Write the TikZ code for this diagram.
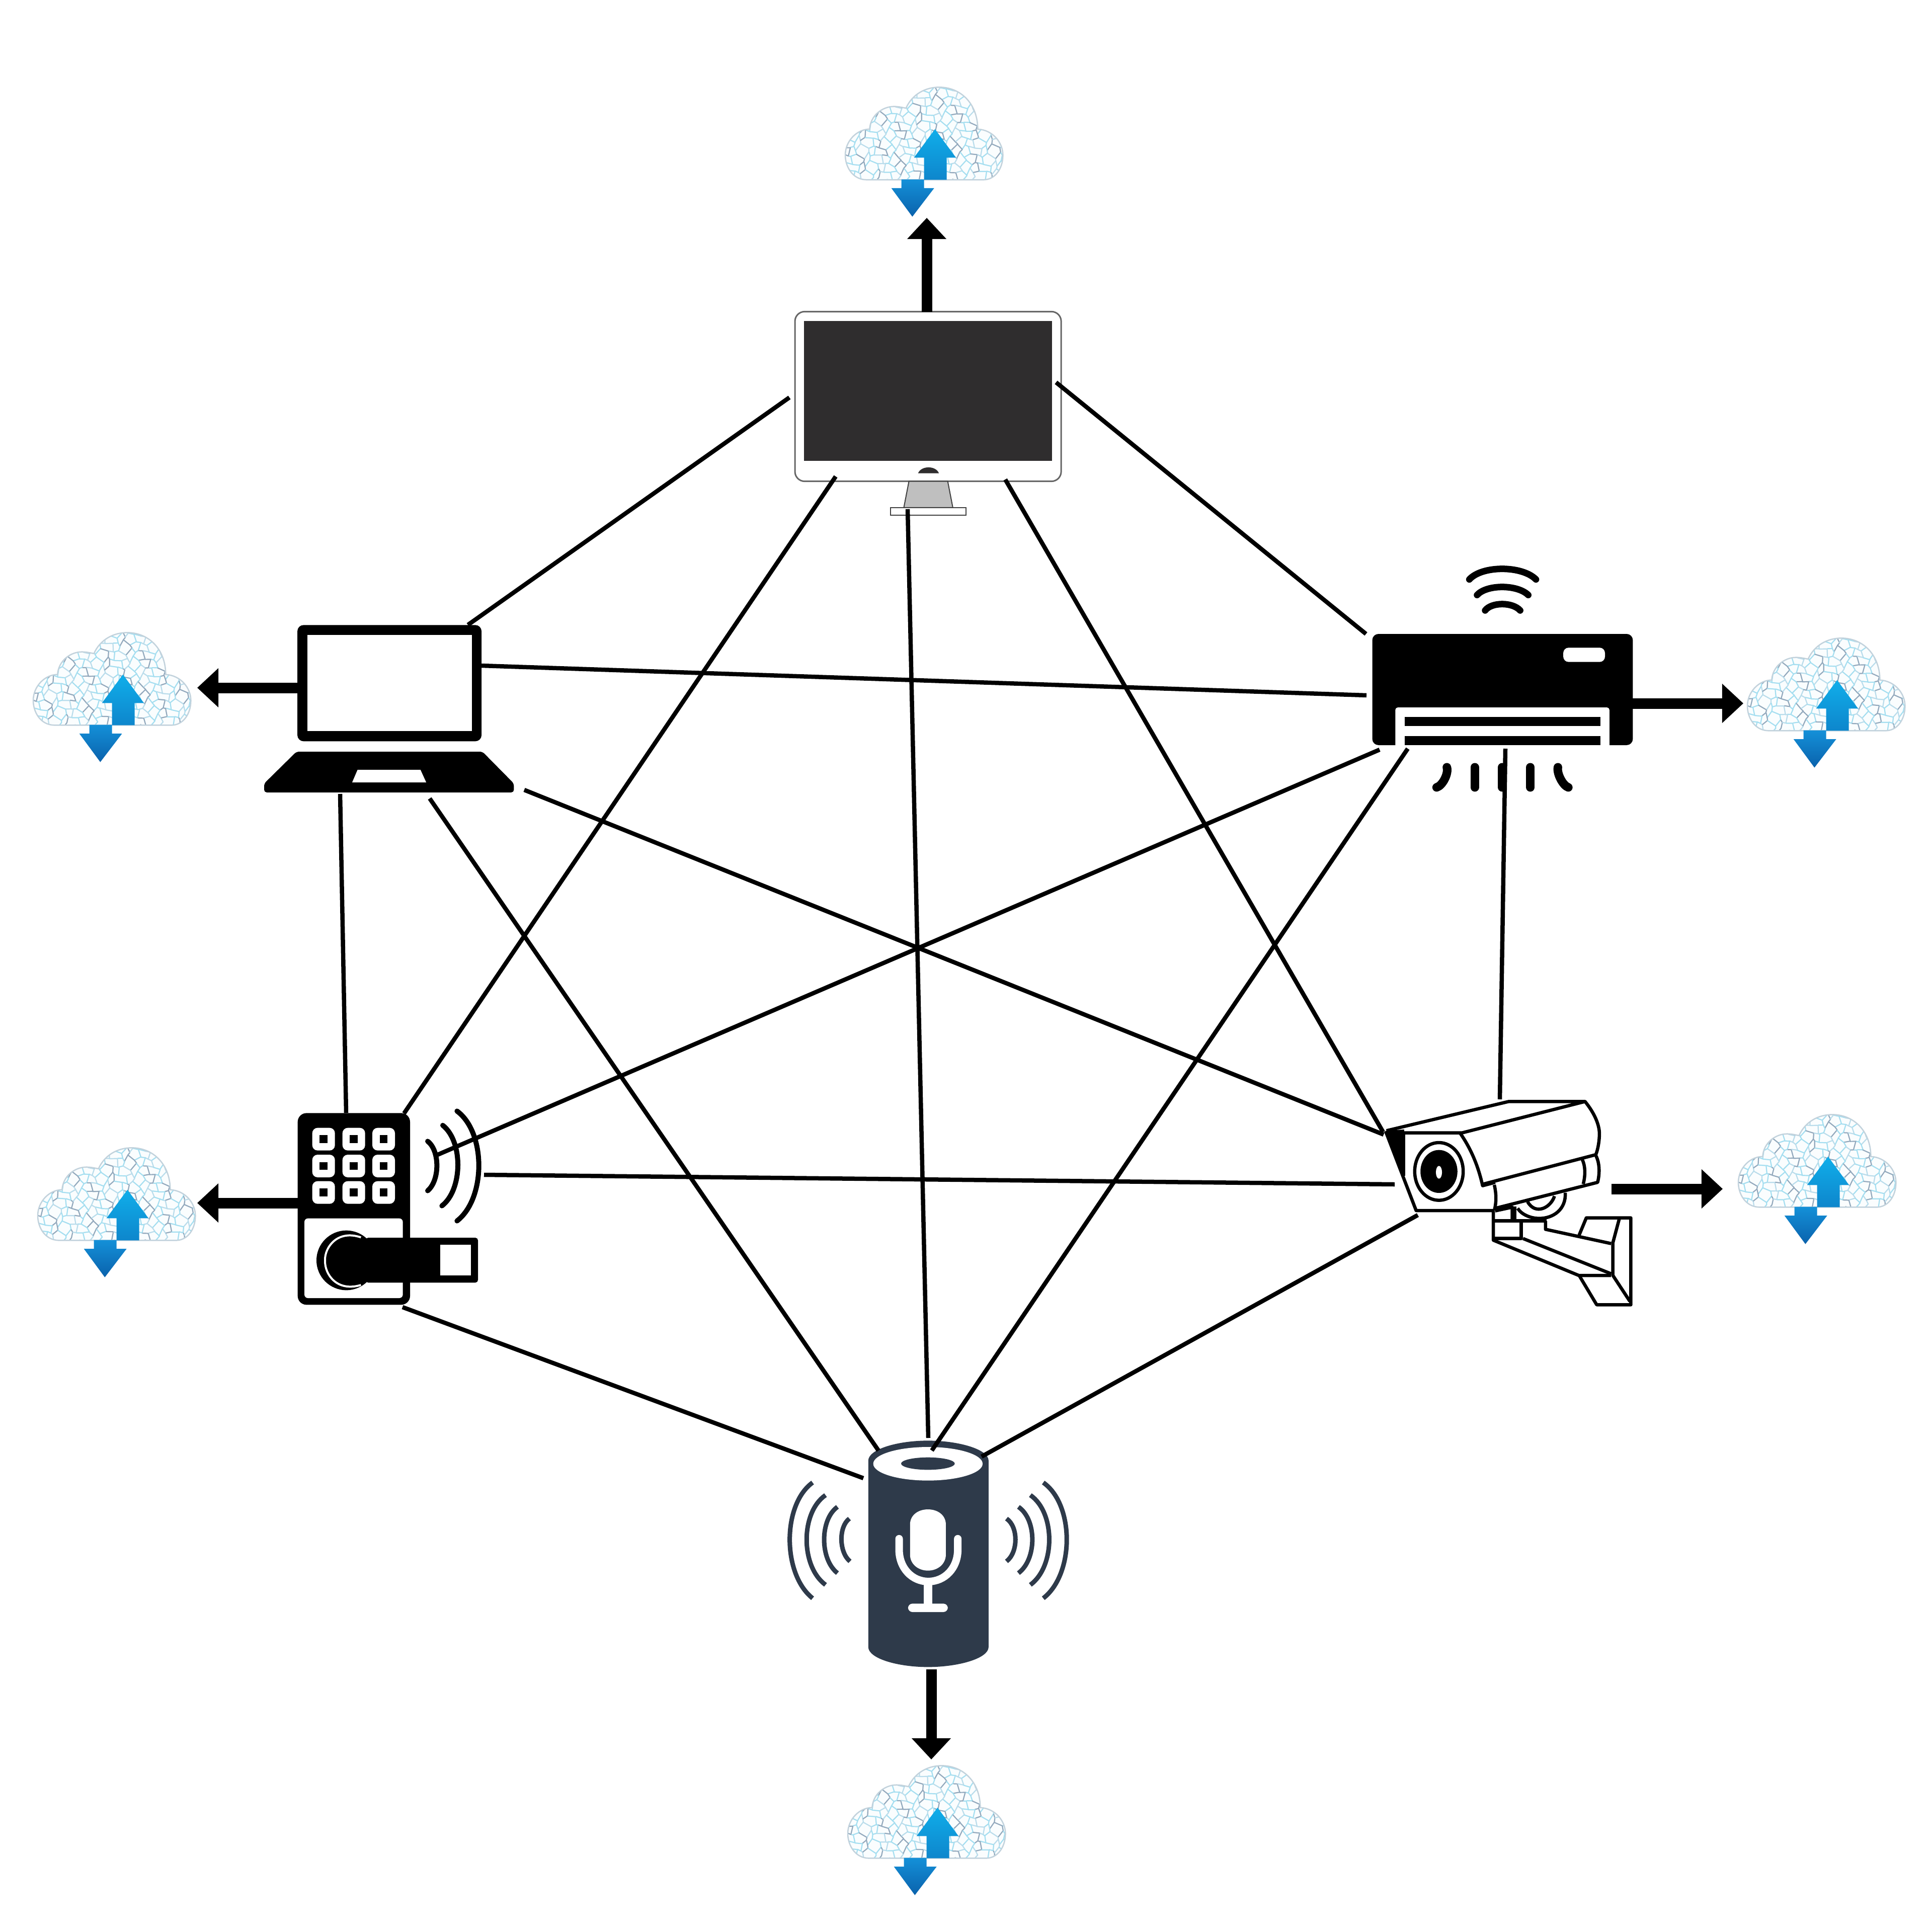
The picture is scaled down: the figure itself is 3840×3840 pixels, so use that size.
\documentclass[tikz,border=0pt]{standalone}
\usetikzlibrary{arrows.meta,shadings}
\definecolor{spk}{HTML}{2E3A4A}
\definecolor{scr}{HTML}{2F2D2E}
\definecolor{meshA}{HTML}{92A8BC}
\definecolor{meshB}{HTML}{A4DEF0}
\definecolor{meshC}{HTML}{B9DCEB}
\definecolor{cloudedge}{HTML}{C2D2DC}
\definecolor{upT}{HTML}{10AEEA}
\definecolor{upB}{HTML}{0E86CC}
\definecolor{dnT}{HTML}{1490D8}
\definecolor{dnB}{HTML}{0A62AC}
\newcommand{\qarc}[7][]{%
  \pgfmathsetmacro\qax{#2+4/3*(#4-(#2+#6)/2)+0.2*(#6-#2)}%
  \pgfmathsetmacro\qay{#3+4/3*(#5-(#3+#7)/2)+0.2*(#7-#3)}%
  \pgfmathsetmacro\qbx{#6+4/3*(#4-(#2+#6)/2)-0.2*(#6-#2)}%
  \pgfmathsetmacro\qby{#7+4/3*(#5-(#3+#7)/2)-0.2*(#7-#3)}%
  \draw[#1] (#2,#3) .. controls (\qax,\qay) and (\qbx,\qby) .. (#6,#7);}
\tikzset{
  lw/.style={line width=#1*0.2845pt},
  conn/.style={lw=8.5,black},
  bigarrow/.style={lw=21,black,-{Triangle[length=12pt,width=21.5pt]}},
  declare function={jx(\p,\q)=\p+13*sin(\p*3.7+\q*9.1);jy(\p,\q)=\q+13*sin(\p*8.3+\q*2.9);},
  cloudshape/.pic={
    \begin{scope}[scale=1/3]
      \def\cloudpath{(245,652) .. controls (160,650) and (120,570) .. (120,505) .. controls (120,420) and (190,350) .. (265,350) .. controls (270,270) and (340,215) .. (410,215) .. controls (440,215) and (465,222) .. (482,225) .. controls (520,140) and (600,100) .. (680,100) .. controls (810,100) and (910,200) .. (910,350) .. controls (1000,355) and (1060,430) .. (1060,505) .. controls (1060,590) and (1010,652) .. (945,652) -- cycle}
      \fill[white!94!meshB] \cloudpath;
      \begin{scope}
        \clip \cloudpath;
        \foreach \i in {0,...,17}{\foreach \j in {0,...,11}{
          \pgfmathsetmacro\cx{110+\i*56+mod(\j,2)*28}
          \pgfmathsetmacro\cy{90+\j*49}
          \pgfmathtruncatemacro\cc{mod(\i*7+\j*5,4)}
          \ifcase\cc\def\mc{meshA}\or\def\mc{meshB}\or\def\mc{meshC}\else\def\mc{meshB}\fi
          \draw[\mc,lw=2.2,line join=round]
            ({jx(\cx,\cy-32)},{jy(\cx,\cy-32)})
            -- ({jx(\cx+28,\cy-16)},{jy(\cx+28,\cy-16)})
            -- ({jx(\cx+28,\cy+16)},{jy(\cx+28,\cy+16)})
            -- ({jx(\cx,\cy+32)},{jy(\cx,\cy+32)});
        }}
      \end{scope}
      \draw[cloudedge,lw=2.5] \cloudpath;
      \shade[top color=upT,bottom color=upB]
        (655,350) -- (780,520) -- (725,520) -- (725,652) -- (590,652) -- (590,520) -- (530,520) -- cycle;
      \shade[top color=dnT,bottom color=dnB]
        (455,650) -- (590,650) -- (590,702) -- (650,702) -- (520,872) -- (395,702) -- (455,702) -- cycle;
    \end{scope}
  }
}
\begin{document}
\begin{tikzpicture}[x=0.01cm,y=-0.01cm]
\useasboundingbox (0,0) rectangle (3840,3840);
\fill[white] (0,0) rectangle (3840,3840);

% clouds
\pic (cloudtop) at (1640,140) {cloudshape};
\pic (cloudlap) at (26,1224) {cloudshape};
\pic (cloudac) at (3433,1235) {cloudshape};
\pic (cloudcam) at (3415,2182) {cloudshape};
\pic (cloudlock) at (35,2248) {cloudshape};
\pic (cloudspk) at (1645,3476) {cloudshape};

% monitor
\begin{scope}[shift={(1560,610)},xscale=1/2.75,yscale=1/3]
  \draw[black!60,lw=3,fill=white,rounded corners=5.5pt] (55,28) rectangle (1510,1040);
  \fill[scr] (105,83) rectangle (1460,918);
  \fill[scr] (728,992) .. controls (745,945) and (825,945) .. (842,992) -- cycle;
  \draw[black!75,lw=2,fill=black!25] (678,1040) -- (890,1040) -- (918,1197) -- (650,1197) -- cycle;
  \draw[black!75,lw=2.5,fill=white] (578,1197) rectangle (990,1242);
\end{scope}

% laptop
\begin{scope}[shift={(500,1210)},xscale=1/2.8,yscale=1/3]
  \fill[black,rounded corners=3.5pt] (255,97) rectangle (1280,790);
  \fill[white] (312,155) rectangle (1226,730);
  \fill[black,rounded corners=1.5pt] (250,852) -- (1285,852) -- (1460,1042) -- (1460,1095) -- (70,1095) -- (70,1042) -- cycle;
  \fill[white] (590,960) -- (940,960) -- (972,1035) -- (560,1035) -- cycle;
\end{scope}

% air conditioner
\begin{scope}[shift={(2700,1100)},xscale=1/2.8,yscale=1/3]
  \fill[black,rounded corners=3.5pt] (77,480) rectangle (1527,1143);
  \fill[white,rounded corners=1.5pt] (205,1160) -- (205,918) -- (1397,918) -- (1397,1160) -- cycle;
  \fill[black] (257,975) rectangle (1347,1030);
  \fill[black] (257,1088) rectangle (1347,1143);
  \fill[white,rounded corners=3pt] (1140,562) rectangle (1372,647);
  \qarc[lw=13,line cap=round]{617}{155}{800}{92}{988}{155}
  \qarc[lw=13,line cap=round]{660}{248}{800}{200}{945}{248}
  \qarc[lw=13,line cap=round]{705}{340}{800}{302}{900}{340}
  \qarc[lw=17,line cap=round]{492}{1275}{480}{1345}{435}{1395}
  \draw[lw=17,line cap=round] (647,1275) -- (647,1395) (800,1275) -- (800,1395) (957,1275) -- (957,1395);
  \qarc[lw=17,line cap=round]{1110}{1275}{1125}{1345}{1168}{1395}
\end{scope}

% camera
\begin{scope}[shift={(2720,2150)},xscale=1/2.8,yscale=1/3,lw=6.5,line join=round]
  \fill[black] (95,292) -- (198,285) -- (198,570) -- cycle;
  \draw (100,292) -- (780,118) -- (1205,118) -- (520,305) -- (190,305);
  \draw (95,295) -- (265,768) -- (700,768);
  \draw (195,310) -- (195,560);
  \draw (512,310) .. controls (570,400) and (610,500) .. (635,620) -- (705,600);
  \draw (1205,118) .. controls (1260,190) and (1285,260) .. (1285,310) .. controls (1285,350) and (1278,400) .. (1265,435) -- (640,610);
  \draw (700,615) .. controls (712,670) and (712,720) .. (700,768);
  \draw (1265,440) .. controls (1290,490) and (1285,560) .. (1275,600) -- (705,755);
  \draw (1190,465) .. controls (1210,510) and (1205,570) .. (1195,610);
  \draw[fill=white] (392,535) ellipse [x radius=135,y radius=172];
  \fill (392,535) ellipse [x radius=103,y radius=128];
  \fill[white] (392,540) ellipse [x radius=17,y radius=38];
  \draw (1095,662) .. controls (1100,760) and (1030,815) .. (950,815) .. controls (900,815) and (850,790) .. (830,755);
  \draw (1035,682) .. controls (1015,750) and (930,800) .. (885,715);
  \draw (705,770) -- (800,748) -- (800,825);
  \draw (815,745) -- (815,825);
  \draw (695,770) -- (695,945) -- (1170,1155) -- (1350,1155);
  \draw (690,830) -- (990,830);
  \draw (700,935) -- (850,935) -- (850,830);
  \draw (860,935) -- (1350,1145);
  \draw (985,830) -- (985,880) -- (1350,965);
  \draw (1172,915) -- (1212,812) -- (1460,812) -- (1460,1330) -- (1270,1330) -- (1175,1160);
  \draw (1395,820) -- (1360,960) -- (1360,1155) -- (1455,1310);
\end{scope}

% lock
\begin{scope}[shift={(560,2180)},scale=1/3]
  \fill[black,rounded corners=5pt] (95,97) rectangle (765,1240);
  \fill[white,rounded corners=2pt] (135,725) -- (722,725) -- (722,1200) -- (135,1200) -- cycle;
  \foreach \xx in {182,362,540}{\foreach \yy in {185,345,503}{
    \fill[white,rounded corners=3pt] (\xx,\yy) rectangle ++(135,135);
    \fill[black] (\xx+44,\yy+44) rectangle ++(47,47);
  }}
  \fill[black] (385,975) circle [radius=178];
  \fill[black,rounded corners=1.5pt] (500,840) rectangle (1170,1108);
  \fill[white] (945,882) rectangle (1128,1065);
  \draw[white,lw=4] (472,838) .. controls (330,790) and (255,900) .. (258,975) .. controls (255,1060) and (330,1165) .. (472,1122);
  \qarc[lw=10,line cap=round]{870}{265}{925}{410}{870}{560}
  \qarc[lw=10,line cap=round]{960}{170}{1050}{410}{955}{650}
  \qarc[lw=10,line cap=round]{1045}{85}{1175}{410}{1045}{740}
\end{scope}

% speaker
\begin{scope}[shift={(1540,2840)},xscale=1/2.53,yscale=1/3]
  \fill[spk] (470,190) .. controls (470,120) and (620,70) .. (770,70) .. controls (920,70) and (1075,120) .. (1075,190) -- (1075,1300) .. controls (1075,1370) and (920,1420) .. (770,1420) .. controls (620,1420) and (470,1370) .. (470,1300) -- cycle;
  \fill[white] (770,208) ellipse [x radius=275,y radius=100];
  \fill[spk] (770,207) ellipse [x radius=135,y radius=37];
  \fill[white] (680,570) .. controls (680,515) and (720,480) .. (770,480) .. controls (820,480) and (860,515) .. (860,570) -- (860,750) .. controls (860,805) and (820,845) .. (770,845) .. controls (720,845) and (680,805) .. (680,750) -- cycle;
  \draw[white,lw=15,line cap=round] (625,655) -- (625,720) .. controls (625,830) and (690,910) .. (772,910) .. controls (855,910) and (920,830) .. (920,720) -- (920,655);
  \fill[white] (750,910) rectangle (792,1050);
  \fill[white,rounded corners=2.5pt] (670,1042) rectangle (870,1092);
  \qarc[spk,lw=9]{375}{535}{335}{660}{378}{790}
  \qarc[spk,lw=9]{315}{465}{248}{660}{315}{860}
  \qarc[spk,lw=9]{255}{395}{160}{660}{255}{930}
  \qarc[spk,lw=9]{190}{320}{75}{660}{190}{1010}
  \qarc[spk,lw=9]{1165}{535}{1210}{660}{1165}{790}
  \qarc[spk,lw=9]{1225}{465}{1295}{660}{1225}{860}
  \qarc[spk,lw=9]{1285}{395}{1380}{660}{1285}{930}
  \qarc[spk,lw=9]{1350}{320}{1468}{660}{1350}{1010}
\end{scope}

% connector ends
\coordinate (monlap) at (1569,790);  \coordinate (lapmon) at (930,1242);
\coordinate (monac) at (2099,760);   \coordinate (acmon) at (2715,1260);
\coordinate (monlock) at (1661,947); \coordinate (lockmon) at (803,2213);
\coordinate (monspk) at (1804,1012); \coordinate (spkmon) at (1845,2858);
\coordinate (moncam) at (1998,953);  \coordinate (cammon) at (2749,2250);
\coordinate (lapac) at (957,1323);   \coordinate (aclap) at (2716,1382);
\coordinate (laplock) at (676,1578); \coordinate (locklap) at (688,2212);
\coordinate (lapspk) at (854,1587);  \coordinate (spklap) at (1746,2883);
\coordinate (lapcam) at (1042,1570); \coordinate (camlap) at (2750,2255);
\coordinate (aclock) at (2742,1490); \coordinate (lockac) at (870,2295);
\coordinate (acspk) at (2798,1488);  \coordinate (spkac) at (1852,2883);
\coordinate (accam) at (2992,1488);  \coordinate (camac) at (2981,2185);
\coordinate (lockcam) at (962,2335); \coordinate (camlock) at (2772,2354);
\coordinate (lockspk) at (800,2598); \coordinate (spklock) at (1716,2938);
\coordinate (camspk) at (2818,2415); \coordinate (spkcam) at (1951,2895);

\foreach \a/\b in {monlap/lapmon,monac/acmon,monlock/lockmon,monspk/spkmon,moncam/cammon,lapac/aclap,laplock/locklap,lapspk/spklap,lapcam/camlap,aclock/lockac,acspk/spkac,accam/camac,lockcam/camlock,lockspk/spklock,camspk/spkcam}
  \draw[conn] (\a) -- (\b);

% cloud links
\coordinate (aTopS) at (1842,620);  \coordinate (aTopE) at (1842,433);
\coordinate (aLapS) at (605,1367);  \coordinate (aLapE) at (392,1367);
\coordinate (aAcS) at (3245,1398);  \coordinate (aAcE) at (3465,1398);
\coordinate (aCamS) at (3203,2363); \coordinate (aCamE) at (3424,2363);
\coordinate (aLockS) at (600,2391); \coordinate (aLockE) at (392,2391);
\coordinate (aSpkS) at (1851,3318); \coordinate (aSpkE) at (1851,3497);
\foreach \a/\b in {aTopS/aTopE,aLapS/aLapE,aAcS/aAcE,aCamS/aCamE,aLockS/aLockE,aSpkS/aSpkE}
  \draw[bigarrow] (\a) -- (\b);
\end{tikzpicture}
\end{document}
